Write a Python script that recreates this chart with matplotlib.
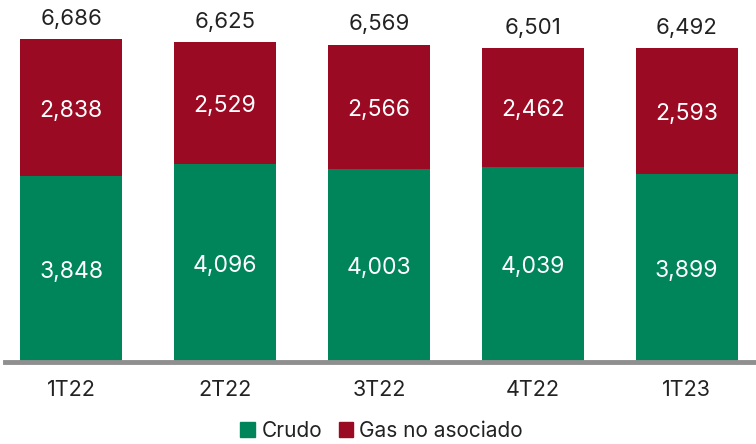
import matplotlib
matplotlib.use('Agg')
import matplotlib.pyplot as plt
import numpy as np
from matplotlib.patches import Patch

plt.rcParams['font.family'] = ['Inter', 'DejaVu Sans']

trimestres = ['1T22', '2T22', '3T22', '4T22', '1T23']
crudo = [3848, 4096, 4003, 4039, 3899]
gas_no_asociado = [2838, 2529, 2566, 2462, 2593]
totales = [6686, 6625, 6569, 6501, 6492]

verde = '#00845A'
rojo = '#9B0A23'
texto = '#222222'

fig = plt.figure(figsize=(7.56, 4.44), dpi=100)
ax = fig.add_axes([5 / 756, 82 / 444, 751 / 756, 362 / 444])

x = np.arange(len(trimestres))
ancho = 0.66
ax.bar(x, crudo, width=ancho, color=verde)
ax.bar(x, gas_no_asociado, width=ancho, bottom=crudo, color=rojo)

# etiquetas dentro de las barras y totales arriba
for i in range(len(x)):
    ax.text(x[i], crudo[i] / 2 - 60, f'{crudo[i]:,}', ha='center', va='center',
            color='white', fontsize=16.5)
    ax.text(x[i], crudo[i] + gas_no_asociado[i] / 2 - 60, f'{gas_no_asociado[i]:,}',
            ha='center', va='center', color='white', fontsize=16.5)
    ax.text(x[i], totales[i] + 420, f'{totales[i]:,}', ha='center', va='center',
            color=texto, fontsize=16)

ax.set_xlim(-0.43, 4.45)
ax.set_ylim(0, 7495)

for s in ['top', 'right', 'left']:
    ax.spines[s].set_visible(False)
ax.spines['bottom'].set_color('#8f8f8f')
ax.spines['bottom'].set_linewidth(3.5)
ax.set_yticks([])
ax.set_xticks(x)
ax.set_xticklabels(trimestres, fontsize=15.5, color=texto)
ax.tick_params(axis='x', length=0, pad=13)

handles = [Patch(color=verde, label='Crudo'), Patch(color=rojo, label='Gas no asociado')]
fig.legend(handles=handles, loc='center', bbox_to_anchor=(0.505, 1 - 431 / 444), ncol=2,
           frameon=False, fontsize=15, handlelength=0.7, handleheight=0.7,
           handletextpad=0.3, columnspacing=0.8, labelcolor=texto)

fig.savefig('out.png', dpi=100)
